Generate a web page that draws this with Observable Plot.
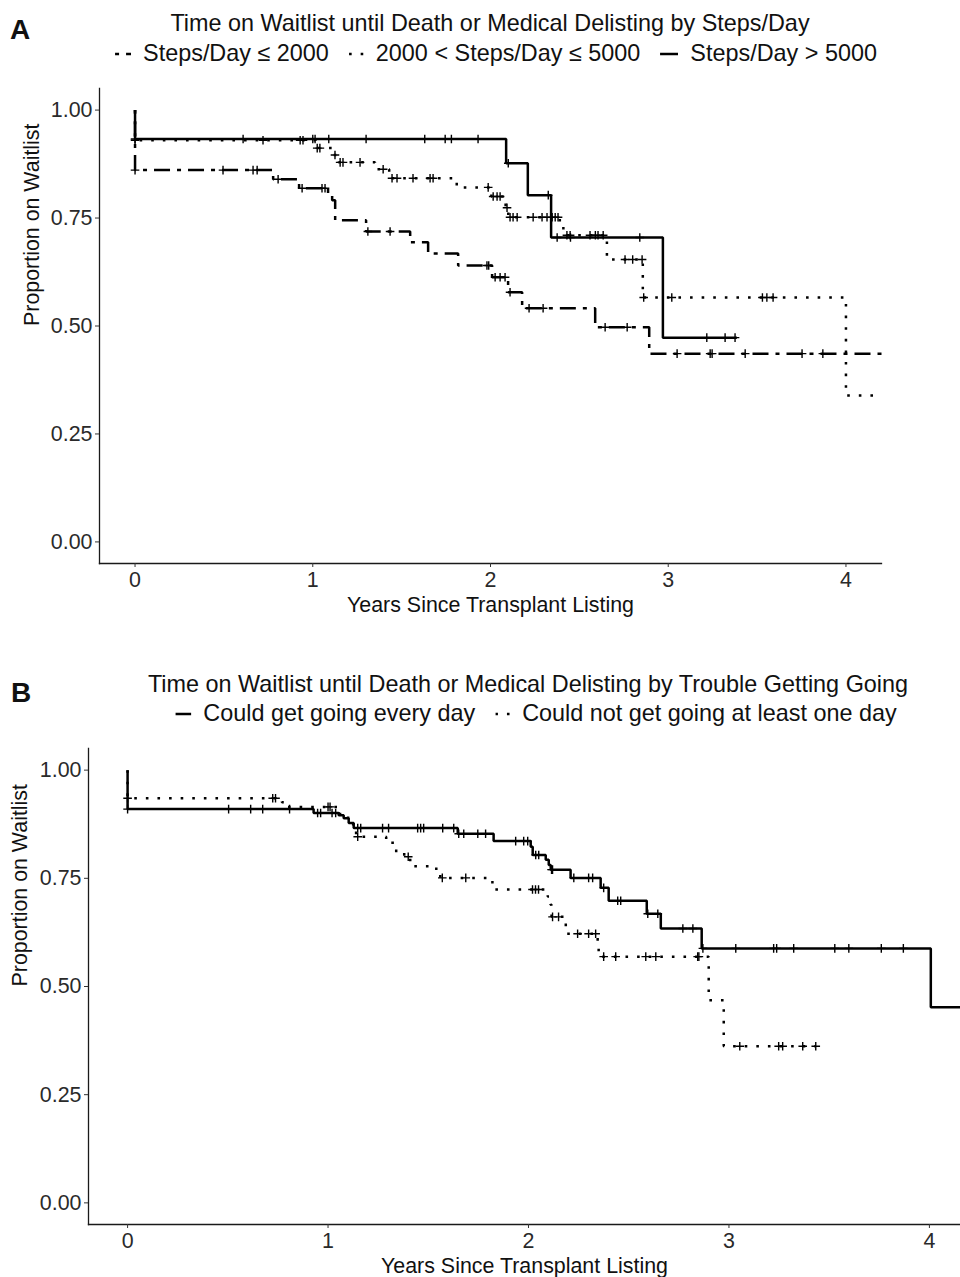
<!DOCTYPE html>
<html>
<head>
<meta charset="utf-8">
<script src="https://cdn.jsdelivr.net/npm/d3@7"></script>
<script src="https://cdn.jsdelivr.net/npm/@observablehq/plot@0.6"></script>
<style>
  html, body { margin: 0; padding: 0; background: #fff; }
  body { font-family: "Liberation Sans", Arial, Helvetica, sans-serif; color: #111; }
  #root { position: relative; width: 960px; height: 1277px; overflow: hidden; background: #fff; }
  .tag { position: absolute; font-weight: bold; font-size: 28px; line-height: 1; }
  .title { position: absolute; font-size: 23.4px; line-height: 1; white-space: nowrap; transform: translateX(-50%); }
  .legend { position: absolute; display: flex; align-items: center; font-size: 23.4px; line-height: 1; white-space: nowrap; transform: translateX(-50%); }
  .legend .item { display: flex; align-items: center; margin: 0 10px; }
  .legend svg { margin-right: 12px; display: block; }
  .plot { position: absolute; left: 0; }
</style>
</head>
<body>
<div id="root">
  <div class="tag" style="left:10px;top:16px">A</div>
  <div class="title" id="titleA" style="left:490px;top:12px"></div>
  <div class="legend" id="legA" style="left:496px;top:42px"></div>
  <div class="plot" id="plotA" style="top:70px"></div>

  <div class="tag" style="left:11px;top:679px">B</div>
  <div class="title" id="titleB" style="left:528px;top:673px"></div>
  <div class="legend" id="legB" style="left:536px;top:702px"></div>
  <div class="plot" id="plotB" style="top:730px"></div>
</div>
<script>
// ---------- text ----------
const titleA = "Time on Waitlist until Death or Medical Delisting by Steps/Day";
const titleB = "Time on Waitlist until Death or Medical Delisting by Trouble Getting Going";
const xTitle = "Years Since Transplant Listing";
const yTitle = "Proportion on Waitlist";
const legendA = ["Steps/Day ≤ 2000", "2000 < Steps/Day ≤ 5000", "Steps/Day > 5000"];
const legendB = ["Could get going every day", "Could not get going at least one day"];
const xTicks = [0, 1, 2, 3, 4];
const yTicks = [0, 0.25, 0.5, 0.75, 1];

// ---------- Panel A data (Kaplan-Meier steps: time of change, survival after change) ----------
const aLowTimes = [0, 0, 0.777, 0.923, 1.086, 1.109, 1.126, 1.30, 1.548, 1.649, 1.818, 2.009, 2.099, 2.178, 2.589, 2.893];
const aLowSurv  = [1, 0.861, 0.84, 0.819, 0.803, 0.791, 0.745, 0.719, 0.694, 0.668, 0.640, 0.613, 0.578, 0.541, 0.497, 0.436];
const aLowEnd = 4.2;
const aLowCensor = [0, 0.495, 0.664, 0.687, 0.805, 0.94, 1.052, 1.069, 1.31, 1.435, 1.98, 1.99, 2.026, 2.054, 2.082, 2.11, 2.217, 2.296, 2.645, 2.769, 3.05, 3.236, 3.247, 3.433, 3.753, 3.87];

const aMidTimes = [0, 0, 1.015, 1.11, 1.145, 1.35, 1.43, 1.81, 2.005, 2.085, 2.10, 2.39, 2.41, 2.655, 2.857, 4.0];
const aMidSurv  = [1, 0.930, 0.912, 0.896, 0.879, 0.863, 0.842, 0.821, 0.80, 0.774, 0.752, 0.73, 0.71, 0.654, 0.566, 0.339];
const aMidEnd = 4.2;
const aMidCensor = [0, 0.72, 0.929, 0.945, 1.025, 1.04, 1.125, 1.154, 1.17, 1.266, 1.396, 1.446, 1.474, 1.564, 1.66, 1.677, 1.987, 2.015, 2.037, 2.054, 2.093, 2.11, 2.127, 2.15, 2.24, 2.29, 2.318, 2.347, 2.364, 2.38, 2.43, 2.448, 2.56, 2.59, 2.605, 2.634, 2.757, 2.80, 2.853, 2.862, 3.02, 3.53, 3.555, 3.59];

const aHighTimes = [0, 0, 2.088, 2.21, 2.341, 2.97];
const aHighSurv  = [1, 0.933, 0.877, 0.803, 0.705, 0.473];
const aHighEnd = 3.386;
const aHighCensor = [0, 0.608, 1.0, 1.013, 1.09, 1.30, 1.63, 1.745, 1.78, 1.93, 2.10, 2.325, 2.375, 2.45, 2.84, 3.217, 3.32, 3.376];

// ---------- Panel B data ----------
const bEveryTimes = [0, 0, 0.928, 1.053, 1.078, 1.103, 1.128, 1.647, 1.826, 2.011, 2.021, 2.086, 2.101, 2.111, 2.21, 2.36, 2.40, 2.59, 2.66, 2.864, 4.007];
const bEverySurv  = [1, 0.910, 0.901, 0.896, 0.889, 0.878, 0.866, 0.853, 0.836, 0.823, 0.804, 0.793, 0.781, 0.77, 0.751, 0.728, 0.698, 0.668, 0.634, 0.588, 0.452];
const bEveryEnd = 4.2;
const bEveryCensor = [0, 0.504, 0.614, 0.674, 0.808, 0.948, 0.963, 1.02, 1.038, 1.148, 1.163, 1.272, 1.302, 1.447, 1.462, 1.477, 1.572, 1.627, 1.652, 1.677, 1.747, 1.786, 1.936, 1.976, 1.996, 2.036, 2.051, 2.115, 2.12, 2.226, 2.30, 2.32, 2.375, 2.445, 2.46, 2.595, 2.645, 2.77, 2.82, 2.87, 3.034, 3.223, 3.238, 3.323, 3.528, 3.598, 3.76, 3.87];

const bNotTimes = [0, 0, 0.77, 0.80, 1.06, 1.10, 1.14, 1.29, 1.34, 1.38, 1.41, 1.54, 1.56, 1.82, 2.096, 2.11, 2.115, 2.186, 2.345, 2.35, 2.899, 2.974];
const bNotSurv  = [1, 0.935, 0.926, 0.915, 0.895, 0.875, 0.846, 0.832, 0.81, 0.80, 0.778, 0.765, 0.751, 0.724, 0.708, 0.689, 0.661, 0.622, 0.592, 0.569, 0.468, 0.362];
const bNotEnd = 3.433;
const bNotCensor = [0, 0.724, 0.738, 1.0, 1.01, 1.148, 1.40, 1.57, 1.687, 2.02, 2.035, 2.05, 2.12, 2.15, 2.245, 2.30, 2.335, 2.375, 2.435, 2.585, 2.635, 2.844, 2.85, 3.054, 3.248, 3.268, 3.368, 3.433];

// ---------- styles ----------
const FONT = '"Liberation Sans", Arial, Helvetica, sans-serif';
const LW = 2.5;
const DASH_TWODASH = "4,7,16,7";
const DASH_DOTTED = "2.6,9";
const DASH_SOLID = null;

function stepRows(times, surv, end) {
  const rows = times.map((t, i) => ({t, s: surv[i]}));
  rows.push({t: end, s: surv[surv.length - 1]});
  return rows;
}
function censorRows(times, surv, cens) {
  return cens.map(t => ({t, s: surv[Math.max(0, d3.bisectRight(times, t) - 1)]}));
}
const plusSymbol = {
  draw(ctx, size) {
    const r = Math.sqrt(size / Math.PI);
    ctx.moveTo(-r, 0); ctx.lineTo(r, 0);
    ctx.moveTo(0, -r); ctx.lineTo(0, r);
  }
};

function seriesMarks(times, surv, end, cens, dash) {
  const lineOpts = {x: "t", y: "s", curve: "step-after", stroke: "#000", strokeWidth: LW, strokeLinecap: "butt", strokeLinejoin: "miter"};
  if (dash) lineOpts.strokeDasharray = dash;
  return [
    Plot.line(stepRows(times, surv, end), lineOpts),
    Plot.dot(censorRows(times, surv, cens), {x: "t", y: "s", symbol: plusSymbol, r: 4.3, fill: "none", stroke: "#000", strokeWidth: 1.4})
  ];
}

function commonMarks(dyX, dxY) {
  return [
    Plot.frame({anchor: "left", stroke: "#1a1a1a", strokeWidth: 1.3}),
    Plot.frame({anchor: "bottom", stroke: "#1a1a1a", strokeWidth: 1.3}),
    Plot.axisX({ticks: xTicks, tickSize: 4, tickPadding: 4, tickFormat: d => String(d), fontSize: 21.4, label: null, color: "#2a2a2a", stroke: "#333"}),
    Plot.axisY({ticks: yTicks, tickSize: 4, tickPadding: 3, tickFormat: d3.format(".2f"), fontSize: 21.4, label: null, color: "#2a2a2a", stroke: "#333"}),
    Plot.text([xTitle], {frameAnchor: "bottom", dy: dyX, fontSize: 21.4, fill: "#111", lineAnchor: "middle"}),
    Plot.text([yTitle], {frameAnchor: "left", dx: dxY, rotate: -90, fontSize: 21.4, fill: "#111", lineAnchor: "middle"})
  ];
}

// ---------- Panel A ----------
const plotA = Plot.plot({
  width: 960, height: 560,
  marginTop: 18, marginBottom: 67, marginLeft: 99, marginRight: 79,
  x: {domain: [-0.2, 4.2]},
  y: {domain: [-0.05, 1.05]},
  style: {fontFamily: FONT, background: "#fff", overflow: "hidden"},
  marks: [
    ...commonMarks(42, -67),
    ...seriesMarks(aMidTimes, aMidSurv, aMidEnd, aMidCensor, DASH_DOTTED),
    ...seriesMarks(aLowTimes, aLowSurv, aLowEnd, aLowCensor, DASH_TWODASH),
    ...seriesMarks(aHighTimes, aHighSurv, aHighEnd, aHighCensor, DASH_SOLID)
  ]
});
document.getElementById("plotA").appendChild(plotA);

// ---------- Panel B ----------
const plotB = Plot.plot({
  width: 960, height: 547,
  marginTop: 18, marginBottom: 53, marginLeft: 88, marginRight: 0,
  x: {domain: [-0.195, 4.2], range: [88, 969]},
  y: {domain: [-0.05, 1.05]},
  style: {fontFamily: FONT, background: "#fff", overflow: "hidden"},
  marks: [
    ...commonMarks(42, -68),
    ...seriesMarks(bNotTimes, bNotSurv, bNotEnd, bNotCensor, DASH_DOTTED),
    ...seriesMarks(bEveryTimes, bEverySurv, bEveryEnd, bEveryCensor, DASH_SOLID)
  ]
});
document.getElementById("plotB").appendChild(plotB);

// ---------- titles & legends ----------
document.getElementById("titleA").textContent = titleA;
document.getElementById("titleB").textContent = titleB;

function keySvg(dash, w) {
  const ns = "http://www.w3.org/2000/svg";
  const svg = document.createElementNS(ns, "svg");
  svg.setAttribute("width", w); svg.setAttribute("height", 8);
  const ln = document.createElementNS(ns, "line");
  ln.setAttribute("x1", 0); ln.setAttribute("x2", w);
  ln.setAttribute("y1", 4); ln.setAttribute("y2", 4);
  ln.setAttribute("stroke", "#000"); ln.setAttribute("stroke-width", LW);
  if (dash) ln.setAttribute("stroke-dasharray", dash);
  svg.appendChild(ln);
  return svg;
}
function buildLegend(id, labels, dashes, widths) {
  const el = document.getElementById(id);
  labels.forEach((lab, i) => {
    const item = document.createElement("div");
    item.className = "item";
    item.appendChild(keySvg(dashes[i], widths[i]));
    const sp = document.createElement("span");
    sp.textContent = lab;
    item.appendChild(sp);
    el.appendChild(item);
  });
}
buildLegend("legA", legendA, [DASH_TWODASH, DASH_DOTTED, DASH_SOLID], [16, 15, 18]);
buildLegend("legB", legendB, [DASH_SOLID, DASH_DOTTED], [16, 15]);
</script>
</body>
</html>
